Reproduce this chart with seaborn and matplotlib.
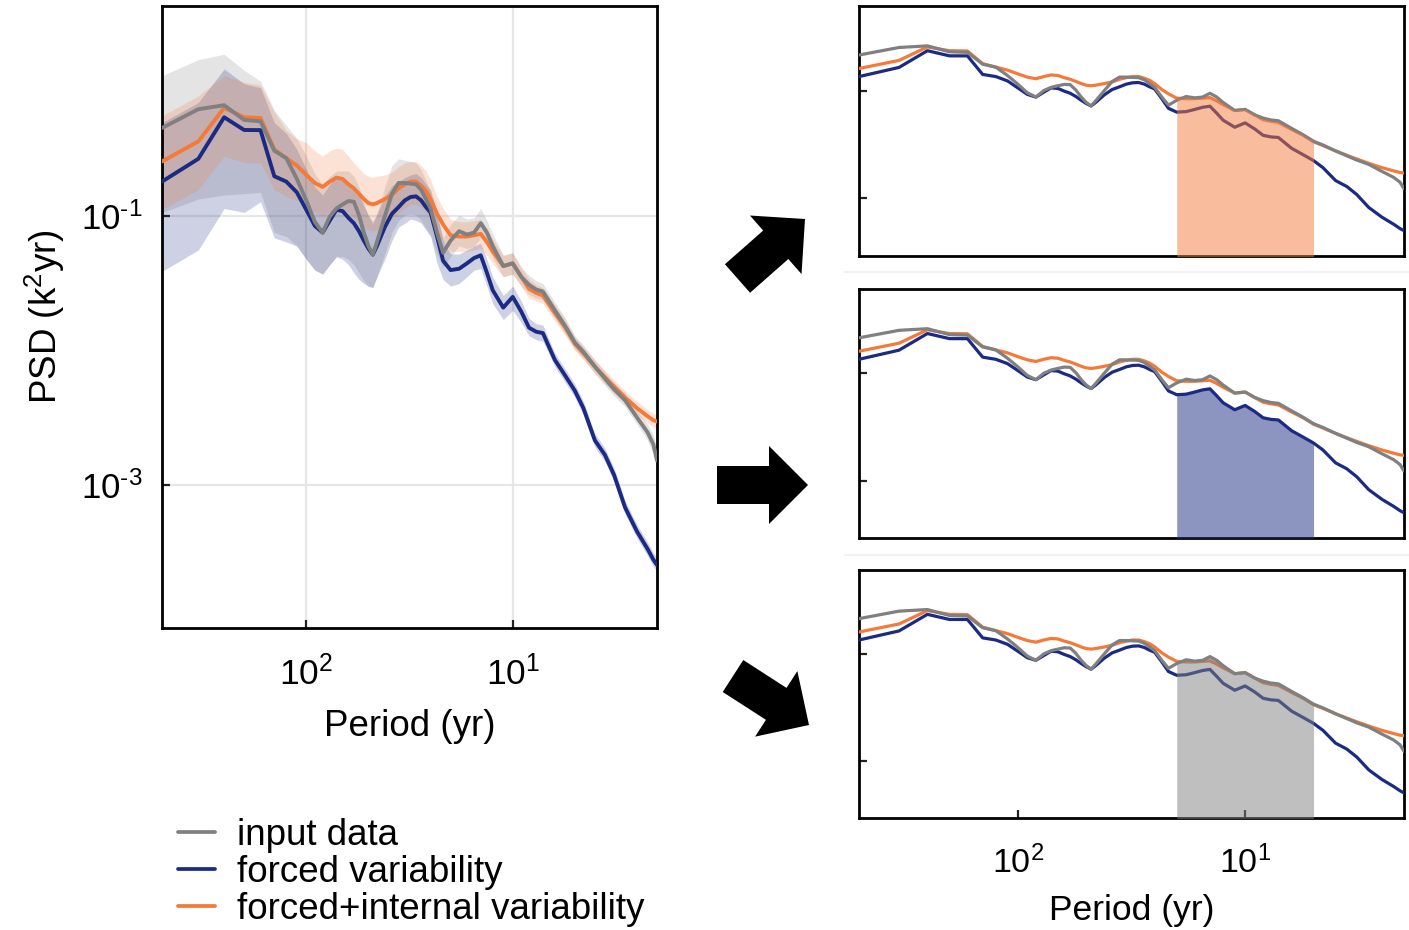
import numpy as np
import pandas as pd
import matplotlib
matplotlib.use("Agg")
import matplotlib.pyplot as plt
import seaborn as sns
from matplotlib.lines import Line2D
from matplotlib.patches import FancyArrow
from matplotlib.ticker import NullLocator

# ---------------------------------------------------------------------------
# Spectral estimates (log10 of PSD, K^2 yr) at frequencies in cycles per year
# ---------------------------------------------------------------------------
freq = [0.002, 0.003, 0.004, 0.005, 0.006, 0.007, 0.008, 0.009, 0.010,
        0.011, 0.012, 0.013, 0.014, 0.015, 0.016, 0.017, 0.018, 0.019, 0.020, 0.021, 0.022,
        0.024, 0.026, 0.028, 0.030, 0.032, 0.034, 0.036, 0.038, 0.040,
        0.043, 0.046, 0.050, 0.055, 0.060, 0.065, 0.070, 0.075, 0.080, 0.090,
        0.10, 0.11, 0.12, 0.13, 0.14, 0.16, 0.18, 0.20, 0.22, 0.25, 0.28, 0.31, 0.35, 0.40, 0.45, 0.48, 0.50]

input_log = [-0.34, -0.20, -0.17, -0.28, -0.29, -0.51, -0.565, -0.72, -0.88,
             -1.04, -1.12, -1.00, -0.94, -0.91, -0.885, -0.89, -0.99, -1.12, -1.22, -1.285, -1.19,
             -1.00, -0.83, -0.75, -0.75, -0.755, -0.76, -0.80, -0.87, -0.94,
             -1.12, -1.27, -1.18, -1.11, -1.135, -1.12, -1.05, -1.12, -1.22, -1.37,
             -1.35, -1.45, -1.51, -1.545, -1.56, -1.70, -1.82, -1.94, -2.01, -2.12, -2.21, -2.29, -2.37, -2.50, -2.61, -2.70, -2.82]

forced_log = [-0.74, -0.57, -0.26, -0.355, -0.356, -0.70, -0.74, -0.82, -0.95,
              -1.07, -1.12, -1.03, -0.95, -0.96, -1.01, -1.05, -1.11, -1.18, -1.24, -1.285, -1.22,
              -1.08, -0.98, -0.93, -0.88, -0.855, -0.85, -0.88, -0.93, -0.97,
              -1.15, -1.33, -1.40, -1.39, -1.35, -1.31, -1.29, -1.42, -1.55, -1.68,
              -1.60, -1.71, -1.83, -1.86, -1.87, -2.07, -2.19, -2.30, -2.43, -2.67, -2.78, -2.93, -3.17, -3.35, -3.48, -3.56, -3.60]

total_log = [-0.59, -0.44, -0.19, -0.26, -0.265, -0.50, -0.565, -0.62, -0.69,
             -0.75, -0.78, -0.74, -0.71, -0.72, -0.76, -0.79, -0.83, -0.87, -0.90, -0.91, -0.90,
             -0.87, -0.84, -0.79, -0.76, -0.74, -0.74, -0.77, -0.81, -0.87,
             -0.98, -1.06, -1.14, -1.15, -1.15, -1.14, -1.13, -1.19, -1.26, -1.37,
             -1.35, -1.45, -1.54, -1.57, -1.59, -1.72, -1.83, -1.95, -2.02, -2.12, -2.20, -2.27, -2.35, -2.43, -2.49, -2.52, -2.53]

# ensemble spread (log10 PSD)
input_lo = [-0.97, -0.87, -0.84, -0.83, -0.82, -1.12, -1.15, -1.22, -1.32,
            -1.40, -1.43, -1.36, -1.30, -1.30, -1.32, -1.36, -1.42, -1.48, -1.52, -1.53, -1.45,
            -1.28, -1.12, -1.03, -0.99, -0.98, -0.99, -1.03, -1.09, -1.14,
            -1.28, -1.38, -1.30, -1.22, -1.24, -1.22, -1.16, -1.22, -1.31, -1.45,
            -1.43, -1.52, -1.58, -1.61, -1.62, -1.76, -1.88, -1.99, -2.06, -2.17, -2.26, -2.34, -2.42, -2.55, -2.67, -2.77, -2.90]
input_hi = [0.05, 0.17, 0.21, 0.09, 0.01, -0.21, -0.32, -0.42, -0.55,
            -0.68, -0.76, -0.70, -0.66, -0.66, -0.66, -0.70, -0.78, -0.90, -1.00, -1.06, -0.98,
            -0.78, -0.62, -0.57, -0.58, -0.59, -0.60, -0.65, -0.73, -0.82,
            -1.00, -1.16, -1.06, -0.99, -1.02, -1.01, -0.94, -1.03, -1.13, -1.29,
            -1.27, -1.38, -1.44, -1.48, -1.50, -1.64, -1.76, -1.89, -1.96, -2.07, -2.16, -2.24, -2.32, -2.45, -2.55, -2.63, -2.74]

forced_lo = [-1.41, -1.25, -0.94, -0.97, -0.89, -1.16, -1.19, -1.22, -1.32,
             -1.40, -1.43, -1.36, -1.30, -1.32, -1.36, -1.42, -1.47, -1.50, -1.52, -1.53, -1.45,
             -1.32, -1.18, -1.08, -1.05, -1.02, -1.03, -1.05, -1.10, -1.15,
             -1.35, -1.47, -1.52, -1.50, -1.45, -1.40, -1.39, -1.52, -1.65, -1.77,
             -1.70, -1.79, -1.89, -1.92, -1.93, -2.12, -2.24, -2.35, -2.48, -2.72, -2.83, -2.98, -3.22, -3.40, -3.53, -3.61, -3.65]
forced_hi = [-0.30, -0.15, 0.10, -0.01, -0.04, -0.30, -0.38, -0.50, -0.65,
             -0.78, -0.84, -0.76, -0.70, -0.71, -0.75, -0.78, -0.84, -0.92, -0.99, -1.04, -0.98,
             -0.85, -0.77, -0.74, -0.71, -0.69, -0.68, -0.71, -0.76, -0.80,
             -0.97, -1.18, -1.28, -1.28, -1.25, -1.22, -1.20, -1.32, -1.45, -1.59,
             -1.52, -1.63, -1.76, -1.80, -1.81, -2.02, -2.14, -2.25, -2.38, -2.62, -2.73, -2.88, -3.12, -3.30, -3.43, -3.51, -3.55]

total_lo = [-0.95, -0.80, -0.55, -0.60, -0.60, -0.80, -0.85, -0.88, -0.92,
            -0.97, -1.00, -0.96, -0.93, -0.94, -0.98, -1.01, -1.05, -1.08, -1.10, -1.11, -1.10,
            -1.06, -1.02, -0.97, -0.94, -0.91, -0.91, -0.93, -0.97, -1.02,
            -1.12, -1.19, -1.26, -1.26, -1.26, -1.25, -1.24, -1.29, -1.35, -1.45,
            -1.43, -1.52, -1.61, -1.63, -1.65, -1.78, -1.89, -2.00, -2.07, -2.17, -2.25, -2.32, -2.40, -2.48, -2.54, -2.57, -2.58]
total_hi = [-0.25, -0.10, 0.05, 0.00, -0.02, -0.22, -0.36, -0.42, -0.45,
            -0.51, -0.55, -0.51, -0.49, -0.50, -0.55, -0.60, -0.64, -0.68, -0.70, -0.71, -0.70,
            -0.69, -0.67, -0.63, -0.60, -0.59, -0.59, -0.62, -0.66, -0.73,
            -0.85, -0.94, -1.02, -1.04, -1.04, -1.03, -1.02, -1.09, -1.17, -1.29,
            -1.27, -1.38, -1.47, -1.51, -1.53, -1.66, -1.77, -1.90, -1.97, -2.07, -2.15, -2.22, -2.30, -2.38, -2.44, -2.47, -2.48]

series_names = ["input data", "forced variability", "forced+internal variability"]
x_ticks = [100, 10]
x_tick_labels = ["$10^{2}$", "$10^{1}$"]
y_ticks = [1e-1, 1e-3]
y_tick_labels = [r"$10^{\text{-}1}$", r"$10^{\text{-}3}$"]
band_periods = (20, 5)          # decadal window highlighted in the small panels

# ---------------------------------------------------------------------------
sns.set_theme(style="white")
plt.rcParams["font.family"] = ["Liberation Sans", "DejaVu Sans"]
plt.rcParams["mathtext.fontset"] = "custom"
plt.rcParams["mathtext.rm"] = "Liberation Sans"
plt.rcParams["mathtext.it"] = "Liberation Sans:italic"
plt.rcParams["mathtext.bf"] = "Liberation Sans:bold"
for key in ("text.color", "axes.labelcolor", "xtick.color", "ytick.color"):
    plt.rcParams[key] = "black"

colors = {"input data": "#808080",
          "forced variability": "#1b2a83",
          "forced+internal variability": "#f47a3a"}
draw_order = ["forced variability", "forced+internal variability", "input data"]

period = 1.0 / np.asarray(freq)
logs = {"input data": np.asarray(input_log),
        "forced variability": np.asarray(forced_log),
        "forced+internal variability": np.asarray(total_log)}
spread = {"input data": (input_lo, input_hi),
          "forced variability": (forced_lo, forced_hi),
          "forced+internal variability": (total_lo, total_hi)}

df = pd.DataFrame({
    "period": np.tile(period, 3),
    "psd": np.concatenate([10 ** logs[s] for s in draw_order]),
    "series": np.repeat(draw_order, len(period)),
})

XLIM = (500, 2)
YLIM = (10 ** -4.07, 10 ** 0.57)

W, H = 1409, 930
fig = plt.figure(figsize=(W / 100, H / 100), dpi=100)


def box(l, t, r, b):
    return [l / W, 1 - b / H, (r - l) / W, (b - t) / H]


def style_axes(ax, lw_spine=2.0):
    ax.set_xscale("log")
    ax.set_yscale("log")
    ax.set_xlim(*XLIM)
    ax.set_ylim(*YLIM)
    for sp in ax.spines.values():
        sp.set_visible(True)
        sp.set_color("black")
        sp.set_linewidth(lw_spine)
    ax.xaxis.set_minor_locator(NullLocator())
    ax.yaxis.set_minor_locator(NullLocator())
    ax.tick_params(direction="in", length=6, width=1.6, color="#222222",
                   labelsize=25, bottom=True, left=True)


# ---------------- main panel ----------------
ax = fig.add_axes(box(162, 6, 657, 628))
style_axes(ax)
for s in ["input data", "forced variability", "forced+internal variability"]:
    lo, hi = spread[s]
    ax.fill_between(period, 10 ** np.asarray(lo), 10 ** np.asarray(hi),
                    color=colors[s], alpha=0.21, lw=0, zorder=1)
sns.lineplot(data=df, x="period", y="psd", hue="series", hue_order=draw_order,
             palette=colors, linewidth=2.8, legend=False, estimator=None, ax=ax, zorder=3)
ax.set_xlim(*XLIM)
ax.set_ylim(*YLIM)
ax.set_xticks(x_ticks)
ax.set_xticklabels(x_tick_labels)
ax.set_yticks(y_ticks)
ax.set_yticklabels(y_tick_labels)
ax.xaxis.set_minor_locator(NullLocator())
ax.yaxis.set_minor_locator(NullLocator())
ax.tick_params(axis="x", pad=20, labelsize=25.5)
ax.tick_params(axis="y", pad=14)
ax.grid(True, which="major", color="#e6e6e6", linewidth=1.6, zorder=0)
ax.set_axisbelow(True)
ax.set_xlabel("Period (yr)", fontsize=26.5, labelpad=12)
ax.set_ylabel("PSD (k$^{2}$yr)", fontsize=26.5, labelpad=10)

# ---------------- small panels ----------------
small_boxes = [box(859, 6, 1404, 256), box(859, 289, 1404, 538), box(859, 570, 1404, 818)]
highlight = ["forced+internal variability", "forced variability", "input data"]
in_band = (period <= band_periods[0] + 1e-9) & (period >= band_periods[1] - 1e-9)

for i, (bx, hs) in enumerate(zip(small_boxes, highlight)):
    a = fig.add_axes(bx)
    style_axes(a)
    sns.lineplot(data=df, x="period", y="psd", hue="series", hue_order=draw_order,
                 palette=colors, linewidth=2.3, legend=False, estimator=None, ax=a, zorder=3)
    a.fill_between(period[in_band], 1e-6, 10 ** logs[hs][in_band],
                   color=colors[hs], alpha=0.5, lw=0, zorder=5)
    a.set_xlim(*XLIM)
    a.set_ylim(*YLIM)
    a.set_yticks(y_ticks)
    a.set_yticklabels([])
    a.set_xlabel("")
    a.set_ylabel("")
    if i < 2:
        a.set_xticks([])
    else:
        a.set_xticks(x_ticks)
        a.set_xticklabels(x_tick_labels)
        a.tick_params(axis="x", pad=20, labelsize=24.5)
        a.set_xlabel("Period (yr)", fontsize=25.5, labelpad=10)
    a.xaxis.set_minor_locator(NullLocator())
    a.yaxis.set_minor_locator(NullLocator())

# faint separators between the small panels
for yy in (272, 555):
    fig.add_artist(Line2D([845 / W, 1.0], [1 - yy / H] * 2, color="#f1f1f1",
                          lw=1.5, transform=fig.transFigure))

# ---------------- block arrows ----------------
ov = fig.add_axes([0, 0, 1, 1], zorder=10)
ov.set_xlim(0, W)
ov.set_ylim(H, 0)
ov.axis("off")
ov.patch.set_alpha(0)
for (x0, y0), (x1, y1) in [((737.5, 278.5), (805, 219)),
                           ((717, 485), (808, 485)),
                           ((733, 676), (809, 725))]:
    ov.add_patch(FancyArrow(x0, y0, x1 - x0, y1 - y0, width=38, head_width=78,
                            head_length=39, length_includes_head=True,
                            color="black", lw=0))

# ---------------- legend ----------------
handles = [Line2D([0], [0], color=colors[s], lw=2.7) for s in series_names]
fig.legend(handles, series_names, loc="upper left",
           bbox_to_anchor=(178 / W, 1 - 818 / H), frameon=False, fontsize=26.5,
           handlelength=1.0, handletextpad=0.6, labelspacing=0.05,
           borderaxespad=0, borderpad=0)

fig.savefig("out.png", dpi=100)
